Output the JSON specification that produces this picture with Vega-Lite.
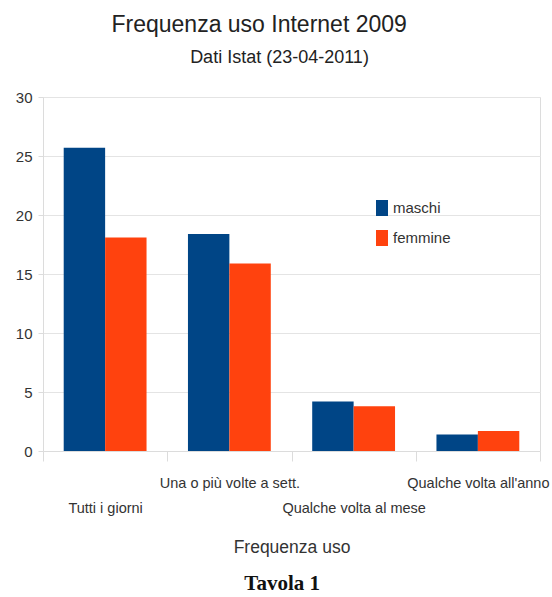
{
  "$schema": "https://vega.github.io/schema/vega-lite/v6.json",
  "padding": {"left": 14, "top": 13, "right": 5, "bottom": 0},
  "background": "white",
  "title": {
    "text": "Frequenza uso Internet 2009",
    "anchor": "middle",
    "dx": -23,
    "font": "Liberation Sans",
    "fontSize": 23,
    "fontWeight": "normal",
    "color": "#222222",
    "offset": 12
  },
  "datasets": {
    "uso": [
      {"freq": "Tutti i giorni", "sesso": "maschi", "valore": 25.7},
      {"freq": "Tutti i giorni", "sesso": "femmine", "valore": 18.1},
      {"freq": "Una o più volte a sett.", "sesso": "maschi", "valore": 18.4},
      {"freq": "Una o più volte a sett.", "sesso": "femmine", "valore": 15.9},
      {"freq": "Qualche volta al mese", "sesso": "maschi", "valore": 4.2},
      {"freq": "Qualche volta al mese", "sesso": "femmine", "valore": 3.8},
      {"freq": "Qualche volta all'anno", "sesso": "maschi", "valore": 1.4},
      {"freq": "Qualche volta all'anno", "sesso": "femmine", "valore": 1.7}
    ]
  },
  "config": {
    "view": {"stroke": "#dcdcdc"},
    "font": "Liberation Sans"
  },
  "vconcat": [
    {
      "title": {
        "text": "Tavola 1",
        "orient": "bottom",
        "anchor": "middle",
        "font": "Liberation Serif",
        "fontSize": 21,
        "fontWeight": "bold",
        "color": "#111111",
        "offset": 16
      },
      "vconcat": [
        {
          "width": 497,
          "height": 354,
          "title": {
            "text": "Dati Istat (23-04-2011)",
            "anchor": "middle",
            "dx": -12,
            "font": "Liberation Sans",
            "fontSize": 18,
            "fontWeight": "normal",
            "color": "#222222",
            "offset": 23
          },
          "data": {"name": "uso"},
          "mark": {"type": "bar"},
          "encoding": {
            "x": {
              "field": "freq",
              "type": "nominal",
              "sort": ["Tutti i giorni", "Una o più volte a sett.", "Qualche volta al mese", "Qualche volta all'anno"],
              "scale": {"paddingInner": 0, "paddingOuter": 0},
              "axis": {
                "title": "Frequenza uso",
                "titleFontSize": 17.5,
                "titleFontWeight": "normal",
                "titleColor": "#333333",
                "titlePadding": 24,
                "labelAngle": 0,
                "labelFontSize": 14.5,
                "labelColor": "#333333",
                "labelOverlap": false,
                "labelBound": false,
                "labelLimit": 300,
                "labelPadding": {"condition": {"test": "datum.value === 'Tutti i giorni' || datum.value === 'Qualche volta al mese'", "value": 40}, "value": 15},
                "tickBand": "extent",
                "tickSize": 10,
                "tickColor": "#dcdcdc",
                "domainColor": "#dcdcdc",
                "grid": false
              }
            },
            "xOffset": {
              "field": "sesso",
              "type": "nominal",
              "sort": ["maschi", "femmine"],
              "scale": {"paddingInner": 0, "paddingOuter": 0.5}
            },
            "y": {
              "field": "valore",
              "type": "quantitative",
              "scale": {"domain": [0, 30]},
              "axis": {
                "title": null,
                "values": [0, 5, 10, 15, 20, 25, 30],
                "labelFontSize": 15,
                "labelColor": "#333333",
                "labelPadding": 6,
                "tickSize": 5,
                "tickColor": "#dcdcdc",
                "domainColor": "#dcdcdc",
                "gridColor": "#e4e4e4"
              }
            },
            "color": {
              "field": "sesso",
              "type": "nominal",
              "sort": ["maschi", "femmine"],
              "scale": {"domain": ["maschi", "femmine"], "range": ["#004586", "#ff420e"]},
              "legend": {
                "title": null,
                "orient": "none",
                "legendX": 331,
                "legendY": 103,
                "symbolType": "M-0.75,-1H0.75V1H-0.75Z",
                "symbolSize": 256,
                "symbolStrokeWidth": 0,
                "labelFontSize": 15,
                "labelColor": "#333333",
                "labelOffset": 3,
                "rowPadding": 14
              }
            }
          }
        }
      ]
    }
  ]
}
